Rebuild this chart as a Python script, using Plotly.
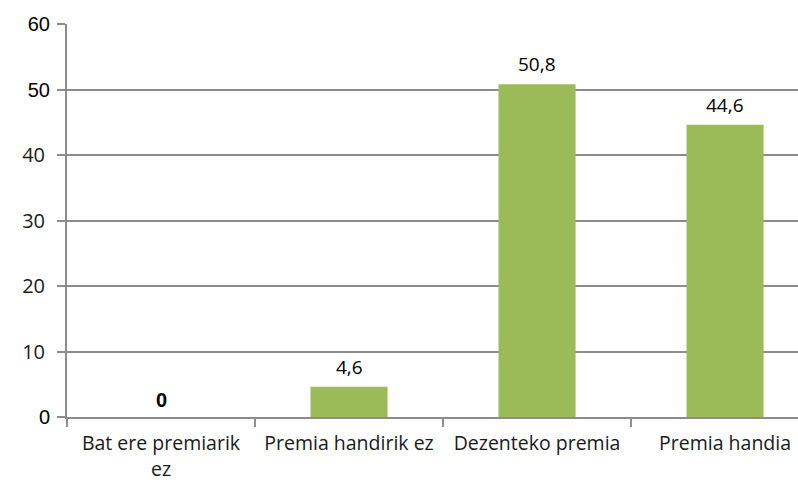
import plotly.graph_objects as go

# Survey answers and their shares (%)
categories = ["Bat ere premiarik<br>ez", "Premia handirik ez", "Dezenteko premia", "Premia handia"]
values = [0, 4.6, 50.8, 44.6]
y_ticks = [0, 10, 20, 30, 40, 50, 60]
# these tick values are printed in a second typeface
alt_ticks = [0, 50, 60]

BAR_GREEN = "#9BBB59"
GRID = "#8C8C8C"
BODY_FONT = "Open Sans"
ALT_FONT = "Liberation Sans"
TEXT = "#1a1a1a"


def fmt(v):
    return "0" if v == 0 else f"{v:.1f}".replace(".", ",")


fig = go.Figure()
fig.add_trace(go.Bar(
    x=categories,
    y=values,
    marker=dict(color=BAR_GREEN, line=dict(width=0)),
    width=0.41,
    hoverinfo="skip",
))
# empty trace so the overlay axis gets drawn
fig.add_trace(go.Scatter(x=[categories[0]], y=[None], yaxis="y2",
                         mode="markers", hoverinfo="skip", showlegend=False))

for cat, v in zip(categories, values):
    fam = ALT_FONT if v == 0 else BODY_FONT
    fig.add_annotation(
        x=cat, y=v, text=fmt(v) if v else "<b>0</b>", showarrow=False,
        xanchor="center", yanchor="bottom", yshift=4 if v == 0 else 5,
        font=dict(family=fam, size=19 if v else 20, color="#000000"),
    )

fig.update_layout(
    width=798, height=483,
    margin=dict(l=67, r=0, t=24, b=66, autoexpand=False),
    paper_bgcolor="white", plot_bgcolor="white",
    showlegend=False,
    font=dict(family=BODY_FONT, size=20, color=TEXT),
    yaxis2=dict(
        overlaying="y", side="left", range=[0, 60],
        tickvals=alt_ticks, ticktext=[str(v) for v in alt_ticks],
        showgrid=False, zeroline=False, showline=False,
        ticks="", ticklabelstandoff=16, automargin=False,
        tickfont=dict(family=ALT_FONT, size=20, color="#000000"),
    ),
)

fig.update_xaxes(
    range=[-0.5, 3.388],
    showgrid=False, automargin=False,
    showline=True, linecolor=GRID, linewidth=2,
    ticks="outside", tickson="boundaries", ticklen=8, tickcolor=GRID, tickwidth=2,
    tickfont=dict(family=BODY_FONT, size=19.5, color=TEXT),
    ticklabelstandoff=8,
)

fig.layout.yaxis.update(
    range=[0, 60],
    tickvals=y_ticks,
    ticktext=["" if v in alt_ticks else str(v) for v in y_ticks],
    showgrid=True, gridcolor=GRID, gridwidth=2,
    zeroline=False, automargin=False,
    showline=True, linecolor=GRID, linewidth=2,
    ticks="outside", ticklen=8, tickcolor=GRID, tickwidth=2,
    tickfont=dict(family=BODY_FONT, size=20, color=TEXT),
    ticklabelstandoff=8,
)

fig.write_html("out.html")
